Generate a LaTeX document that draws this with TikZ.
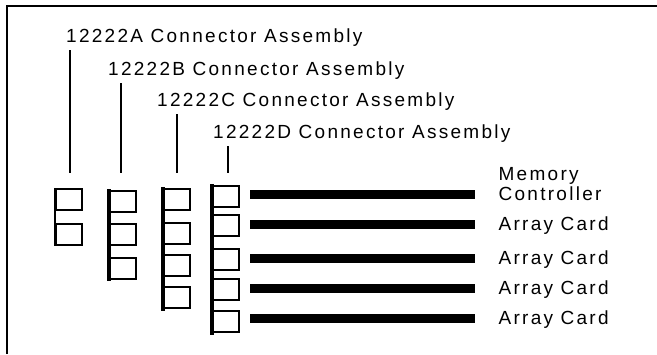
\documentclass[tikz,border=0pt]{standalone}
\usepackage{fontspec}
\setmainfont[LetterSpace=12]{Liberation Sans}
\usetikzlibrary{positioning,calc}

\begin{document}
\begin{tikzpicture}[x = 1pt, y = -1pt,
  lbl/.style = {inner sep = 0pt, font = \fontsize{19}{22}\selectfont},
  hdr/.style = {lbl, anchor = base west},
  card/.style = {lbl, text height = 13pt, text depth = 0pt},
  leader/.style = {line width = 1.1pt},
  slot/.style = {draw, line width = 1.5pt, minimum width = 26pt, minimum height = 21pt, inner sep = 0pt, anchor = north west},
  spine/.style = {line width = 3.2pt},
  bar/.style = {fill = black, minimum width = 225pt, minimum height = 9pt, inner sep = 0pt, anchor = west}]
\useasboundingbox (0,0) rectangle (657,354);
% Frame
\draw[line width = 2pt] (7,354) -- (7,6) -- (657,6);
% Assembly labels
\node[hdr] (lblA) at (66,42) {12222A Connector Assembly};
\node[hdr] (lblB) at (108,75) {12222B Connector Assembly};
\node[hdr] (lblC) at (157,106) {12222C Connector Assembly};
\node[hdr] (lblD) at (213,138) {12222D Connector Assembly};
\coordinate (endA) at (70,173);
\coordinate (endB) at (121,173);
\coordinate (endC) at (177,173);
\coordinate (endD) at (228,173);
\foreach \n in {A,B,C,D}
  \draw[leader] ($(end\n |- lbl\n.south)+(0,4)$) -- (end\n);
% Connector assemblies
\foreach \i/\t in {1/188, 2/223}
  \node[slot] (a\i) at (55,\t) {};
\draw[line width = 1.5pt] (a1.north west) -- (a2.south west);
\foreach \i/\t in {1/190, 2/223, 3/257}
  \node[slot] (b\i) at (109,\t) {};
\draw[spine] ([yshift = 1pt]b1.north west) -- ([yshift = -1pt]b3.south west);
\foreach \i/\t in {1/188, 2/222, 3/254, 4/286}
  \node[slot] (c\i) at (163,\t) {};
\draw[spine] ([yshift = 1pt]c1.north west) -- ([yshift = -2pt]c4.south west);
\foreach \i/\t in {1/185, 2/214, 3/248, 4/278, 5/310}
  \node[slot] (d\i) at (212,\t) {};
\draw[spine] ([yshift = 1pt]d1.north west) -- ([yshift = -2pt]d5.south west);
% Cards
\foreach \i/\c in {1/194, 2/224, 3/258, 4/288, 5/318}
  \node[bar] (bar\i) at (250,\c) {};
\node[card, right = 23pt of bar1] (ctrl) {Controller};
\node[card, above = 7pt of ctrl.north west, anchor = south west] (mem) {Memory};
\foreach \i in {2,...,5}
  \node[card, right = 23pt of bar\i] (card\i) {Array Card};
\end{tikzpicture}
\end{document}
